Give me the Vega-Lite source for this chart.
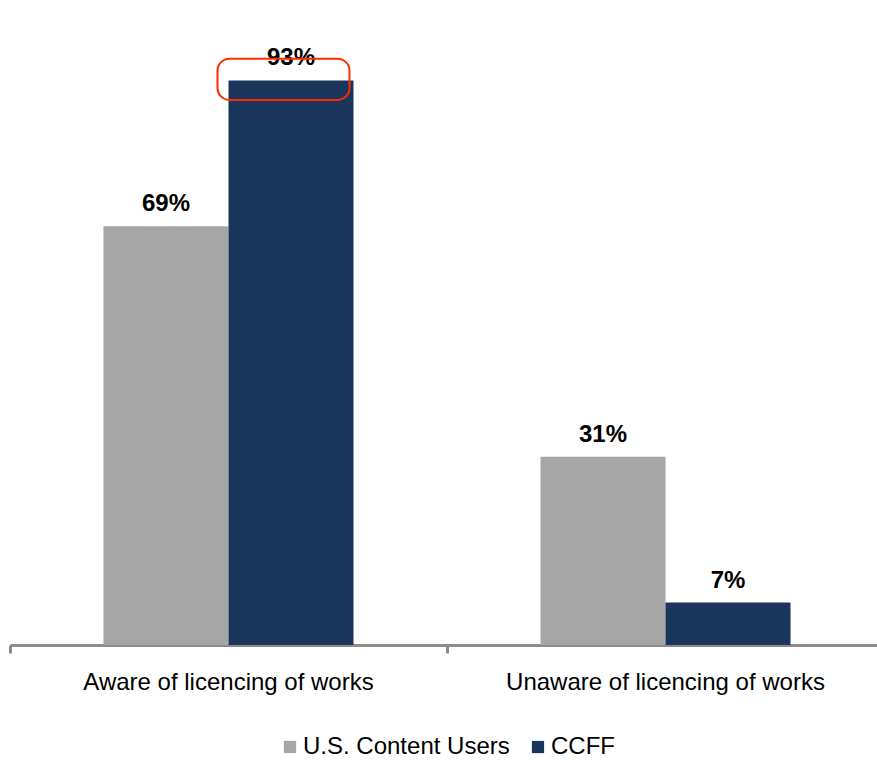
{
  "$schema": "https://vega.github.io/schema/vega-lite/v6.json",
  "width": 874,
  "height": 607,
  "autosize": {"type": "none"},
  "padding": {"left": 10, "top": 38, "right": 0, "bottom": 115},
  "config": {"view": {"stroke": null}, "font": "Liberation Sans"},
  "datasets": {
    "bars": [
      {"category": "Aware of licencing of works", "series": "U.S. Content Users", "value": 69, "label": "69%"},
      {"category": "Aware of licencing of works", "series": "CCFF", "value": 93, "label": "93%"},
      {"category": "Unaware of licencing of works", "series": "U.S. Content Users", "value": 31, "label": "31%"},
      {"category": "Unaware of licencing of works", "series": "CCFF", "value": 7, "label": "7%"}
    ],
    "highlight": [
      {"category": "Aware of licencing of works", "top": 96.6, "bottom": 89.8}
    ]
  },
  "encoding": {
    "x": {
      "field": "category", "type": "nominal", "sort": null,
      "scale": {"paddingInner": 0, "paddingOuter": 0, "domain": ["Aware of licencing of works", "Unaware of licencing of works"]},
      "axis": {
        "title": null, "labelAngle": 0, "labelFontSize": 24, "labelColor": "#000000",
        "labelPadding": 17, "bandPosition": 0, "tickSize": 8, "tickWidth": 3,
        "tickColor": "#8c8c8c", "domainColor": "#8c8c8c", "domainWidth": 3,
        "labelFont": "Liberation Sans", "labelLimit": 0
      }
    }
  },
  "layer": [
    {
      "data": {"name": "bars"},
      "mark": {"type": "bar"},
      "encoding": {
        "xOffset": {
          "field": "series", "type": "nominal",
          "sort": ["U.S. Content Users", "CCFF"],
          "scale": {"paddingInner": 0, "paddingOuter": 0.748}
        },
        "y": {"field": "value", "type": "quantitative", "scale": {"domain": [0, 100]}, "axis": null},
        "color": {
          "field": "series", "type": "nominal",
          "sort": ["U.S. Content Users", "CCFF"],
          "scale": {"domain": ["U.S. Content Users", "CCFF"], "range": ["#a6a6a6", "#1b365d"]},
          "legend": {
            "title": null, "orient": "none", "legendX": 268, "legendY": 697, "direction": "horizontal",
            "symbolType": "square", "symbolSize": 150, "symbolStrokeWidth": 0,
            "labelFontSize": 24, "labelColor": "#000000", "columnPadding": 16, "labelOffset": 1,
            "labelFont": "Liberation Sans", "labelLimit": 0
          }
        }
      }
    },
    {
      "data": {"name": "bars"},
      "mark": {"type": "text", "fontSize": 24, "fontWeight": "bold", "baseline": "alphabetic", "dy": -15, "color": "#000000"},
      "encoding": {
        "xOffset": {
          "field": "series", "type": "nominal",
          "sort": ["U.S. Content Users", "CCFF"],
          "scale": {"paddingInner": 0, "paddingOuter": 0.748}
        },
        "y": {"field": "value", "type": "quantitative", "scale": {"domain": [0, 100]}},
        "text": {"field": "label"}
      }
    },
    {
      "data": {"name": "highlight"},
      "mark": {"type": "bar", "fill": null, "stroke": "#ff2a00", "strokeWidth": 2, "cornerRadius": 12, "width": 132, "xOffset": 55},
      "encoding": {
        "y": {"field": "top", "type": "quantitative", "scale": {"domain": [0, 100]}},
        "y2": {"field": "bottom"}
      }
    }
  ]
}
